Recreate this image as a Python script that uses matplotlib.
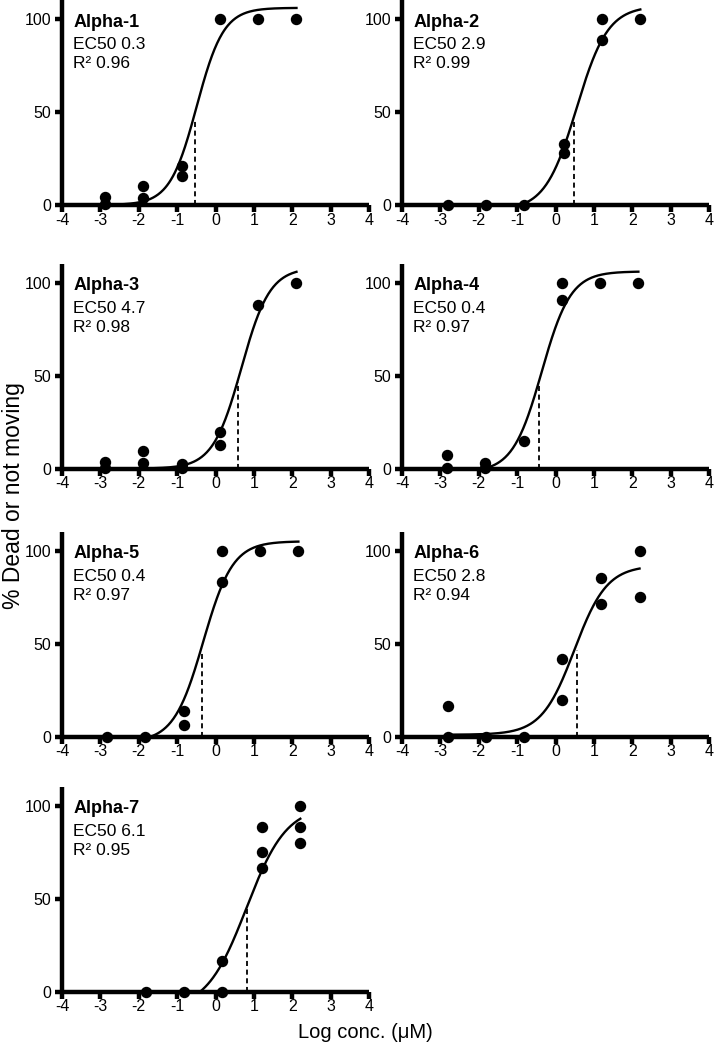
import matplotlib
matplotlib.use("Agg")
import matplotlib.pyplot as plt
import numpy as np

plt.rcParams['font.family'] = ['Liberation Sans', 'DejaVu Sans']
plt.rcParams['axes.unicode_minus'] = False

# panel labels
names = ['Alpha-1', 'Alpha-2', 'Alpha-3', 'Alpha-4', 'Alpha-5', 'Alpha-6', 'Alpha-7']
ec50_text = ['EC50 0.3', 'EC50 2.9', 'EC50 4.7', 'EC50 0.4', 'EC50 0.4', 'EC50 2.8', 'EC50 6.1']
r2_text = ['R\u00b2 0.96', 'R\u00b2 0.99', 'R\u00b2 0.98', 'R\u00b2 0.97', 'R\u00b2 0.97', 'R\u00b2 0.94', 'R\u00b2 0.95']

# measured points (log conc, % dead or not moving)
a1_x = [-2.88, -2.88, -1.88, -1.88, -0.88, -0.88, 0.11, 1.11, 2.11]
a1_y = [4.5, 0.3, 10.4, 3.8, 21.1, 15.8, 100, 100, 100]
a2_x = [-2.81, -1.80, -0.81, 0.21, 0.21, 1.21, 1.21, 2.21]
a2_y = [0, 0, 0, 33, 28, 100, 88.7, 100]
a3_x = [-2.88, -2.88, -1.88, -1.88, -0.88, -0.88, 0.11, 0.11, 1.11, 2.11]
a3_y = [3.6, 0.2, 9.7, 3.2, 2.6, 0.2, 19.8, 12.8, 87.8, 100]
a4_x = [-2.83, -2.83, -1.83, -1.83, -0.83, 0.17, 0.17, 1.16, 2.16]
a4_y = [7.4, 0.2, 3.2, 0.3, 14.6, 100, 90.5, 100, 100]
a5_x = [-2.83, -1.83, -0.83, -0.83, 0.17, 0.17, 1.17, 2.16]
a5_y = [0, 0, 14, 6.1, 100, 83.3, 100, 100]
a6_x = [-2.81, -2.81, -1.80, -0.81, 0.18, 0.18, 1.18, 1.18, 2.19, 2.19]
a6_y = [16.5, 0, 0, 0, 41.6, 19.7, 85.1, 71.1, 100, 74.9]
a7_x = [-1.81, -0.81, 0.18, 0.18, 1.21, 1.21, 1.21, 2.21, 2.21, 2.21]
a7_y = [0, 0, 16.5, 0, 88.7, 74.9, 66.4, 100, 88.7, 79.9]
points_x = [a1_x, a2_x, a3_x, a4_x, a5_x, a6_x, a7_x]
points_y = [a1_y, a2_y, a3_y, a4_y, a5_y, a6_y, a7_y]

# 4PL fit parameters
fit_bottom = [0, -3, 0, -2, -3, 1, -10]
fit_top = [106, 107, 108, 106, 105, 92, 100]
fit_mid = [-0.49, 0.548, 0.673, -0.36, -0.32, 0.49, 0.807]
fit_hill = [1.24, 1.06, 1.17, 1.15, 1.13, 1.02, 0.83]
ec50_line_x = [-0.54, 0.47, 0.59, -0.44, -0.36, 0.56, 0.83]
ec50_line_top = [46, 46, 46.5, 46, 46, 46.5, 46]

W, H = 715, 1060
fig = plt.figure(figsize=(W / 100, H / 100), dpi=100)

col_left = [62, 402]
row_top = [0.4, 264, 532, 787]
ax_w, ax_h = 307, 204.6

for i in range(7):
    r, c = divmod(i, 2)
    left = col_left[c]
    top = row_top[r]
    ax = fig.add_axes([left / W, 1 - (top + ax_h) / H, ax_w / W, ax_h / H])
    ax.set_xlim(-4, 4)
    ax.set_ylim(0, 110)
    for s in ['top', 'right']:
        ax.spines[s].set_visible(False)
    for s in ['left', 'bottom']:
        ax.spines[s].set_linewidth(3.2)
        ax.spines[s].set_capstyle('butt')
    ax.set_xticks(range(-4, 5))
    ax.set_yticks([0, 50, 100])
    ax.tick_params(axis='x', length=5, width=3.2, pad=0.5, labelsize=11.5)
    ax.tick_params(axis='y', length=5, width=3.2, pad=3, labelsize=11.5)

    xs = np.linspace(min(points_x[i]), max(points_x[i]), 300)
    b, t, m, h = fit_bottom[i], fit_top[i], fit_mid[i], fit_hill[i]
    ys = b + (t - b) / (1 + 10 ** (h * (m - xs)))
    ax.plot(xs, ys, color='black', lw=1.7, zorder=3)
    ax.plot([ec50_line_x[i], ec50_line_x[i]], [0, ec50_line_top[i]], color='black',
            lw=1.3, linestyle=(0, (2.8, 2)), zorder=2)
    ax.plot(points_x[i], points_y[i], 'o', color='black', ms=7.2, clip_on=False, zorder=4)

    ax.text(-3.71, 95.9, names[i], fontsize=13, fontweight='bold', va='baseline')
    ax.text(-3.71, 83.7, ec50_text[i], fontsize=12.5, va='baseline')
    ax.text(-3.71, 73.5, r2_text[i], fontsize=12.5, va='baseline')

fig.text(14 / W, 1 - 496 / H, '% Dead or not moving', rotation=90, ha='center', va='center', fontsize=16.5)
fig.text(365 / W, 1 - 1032 / H, 'Log conc. (\u03bcM)', ha='center', va='center', fontsize=14.5)

fig.savefig('out.png', dpi=100)
